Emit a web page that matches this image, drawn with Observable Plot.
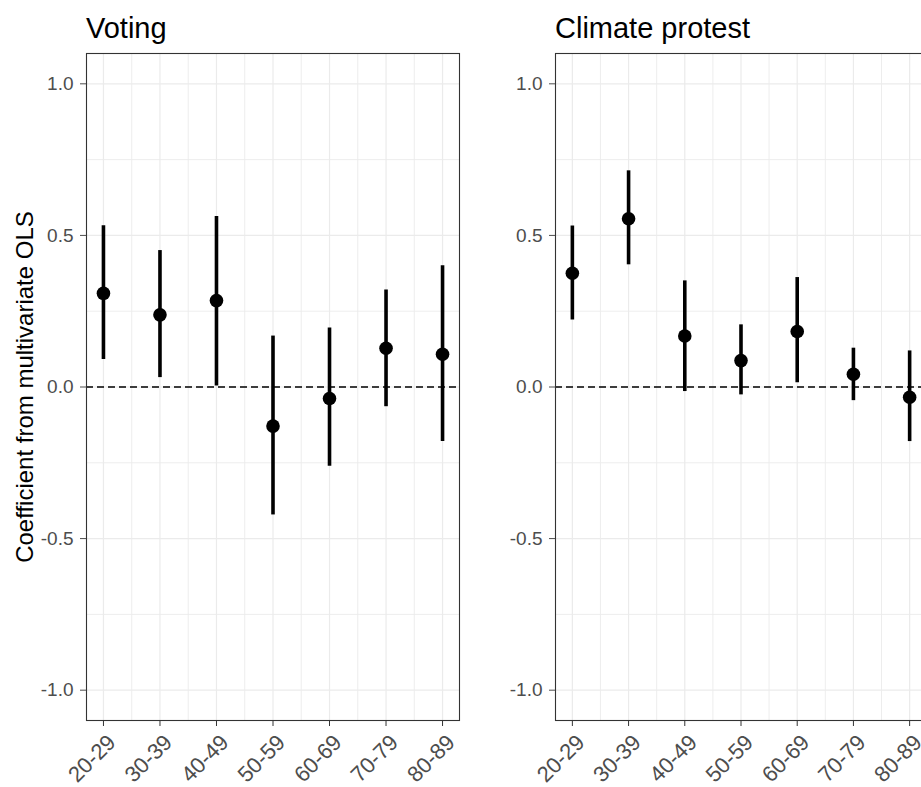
<!DOCTYPE html>
<html><head><meta charset="utf-8">
<script src="https://cdn.jsdelivr.net/npm/d3@7"></script>
<script src="https://cdn.jsdelivr.net/npm/@observablehq/plot@0.6"></script>
<style>
html,body{margin:0;padding:0;background:#fff;overflow:hidden;}
#wrap{position:relative;width:921px;height:787px;overflow:hidden;background:#fff;font-family:"Liberation Sans",Arial,sans-serif;}
.panel{position:absolute;top:0;}
.panel svg{max-width:none !important;display:block;}
.title{position:absolute;font-size:29px;line-height:1;color:#000;white-space:nowrap;}
.ylab{position:absolute;width:400px;height:24px;font-size:24px;line-height:1;text-align:center;color:#000;white-space:nowrap;transform:rotate(-90deg);}
</style></head><body><div id="wrap"></div>
<script>
// ---- data ----
const ageGroups = ["20-29","30-39","40-49","50-59","60-69","70-79","80-89"];
const votingEst = [0.309, 0.238, 0.285, -0.129, -0.038, 0.128, 0.108];
const votingLo  = [0.091, 0.031, 0.003, -0.422, -0.261, -0.065, -0.180];
const votingHi  = [0.532, 0.450, 0.562, 0.168, 0.195, 0.320, 0.400];
const climateEst = [0.375, 0.555, 0.168, 0.087, 0.183, 0.042, -0.034];
const climateLo  = [0.221, 0.403, -0.015, -0.026, 0.014, -0.045, -0.180];
const climateHi  = [0.531, 0.713, 0.350, 0.205, 0.361, 0.128, 0.119];
const yTicks = [-1.0, -0.5, 0.0, 0.5, 1.0];
const panelTitles = ["Voting", "Climate protest"];
const yTitle = "Coefficient from multivariate OLS";

const FONT = '"Liberation Sans", Arial, sans-serif';
const xPos = ageGroups.map((g, i) => i + 1);
const xMinor = xPos.slice(0, -1).map(v => v + 0.5);
const yMinor = yTicks.slice(0, -1).map((v, i) => (v + yTicks[i + 1]) / 2);

function panel(est, lo, hi, marginLeft, frameWidth) {
  const data = ageGroups.map((g, i) => ({pos: i + 1, g, est: est[i], lo: lo[i], hi: hi[i]}));
  return Plot.plot({
    width: marginLeft + frameWidth + 2,
    height: 787,
    marginTop: 53, marginBottom: 67, marginLeft, marginRight: 2,
    x: {type: "linear", domain: [0.7, 7.3]},
    y: {domain: [-1.1, 1.1]},
    style: {fontFamily: FONT, background: "white", overflow: "visible"},
    marks: [
      Plot.gridY(yMinor, {stroke: "#EBEBEB", strokeOpacity: 1, strokeWidth: 0.9}),
      Plot.gridX(xMinor, {stroke: "#EBEBEB", strokeOpacity: 1, strokeWidth: 0.9}),
      Plot.gridY(yTicks, {stroke: "#EBEBEB", strokeOpacity: 1, strokeWidth: 1.2}),
      Plot.gridX(xPos, {stroke: "#EBEBEB", strokeOpacity: 1, strokeWidth: 1.2}),
      Plot.ruleY([0], {stroke: "black", strokeWidth: 1.3, strokeDasharray: "7,4"}),
      Plot.ruleX(data, {x: "pos", y1: "lo", y2: "hi", stroke: "black", strokeWidth: 3.6}),
      Plot.dot(data, {x: "pos", y: "est", r: 6.8, fill: "black", stroke: "none"}),
      Plot.frame({stroke: "#333333", strokeWidth: 1.1}),
      Plot.axisY(yTicks, {tickFormat: d => d.toFixed(1), fontSize: 19, color: "#4D4D4D",
        tickSize: 6, tickPadding: 7, label: null}),
      // x ticks only
      Plot.axisX(xPos, {tickSize: 6, stroke: "#333333", fill: "none", label: null}),
      // x tick labels only, rotated
      Plot.axisX(xPos, {tickFormat: d => ageGroups[d - 1], tickRotate: -45, fontSize: 22,
        fill: "#4D4D4D", stroke: "none", tickSize: 0, tickPadding: 0, textAnchor: "end", lineAnchor: "bottom",
        dx: 13.5, dy: 23.3, label: null})
    ]
  });
}

const wrap = document.getElementById("wrap");
const specs = [
  {left: 0, est: votingEst, lo: votingLo, hi: votingHi, ml: 86, fw: 373},
  {left: 470, est: climateEst, lo: climateLo, hi: climateHi, ml: 85, fw: 371}
];
specs.forEach((s, i) => {
  const div = document.createElement("div");
  div.className = "panel";
  div.style.left = s.left + "px";
  div.style.width = (s.ml + s.fw + 2) + "px";
  div.appendChild(panel(s.est, s.lo, s.hi, s.ml, s.fw));
  wrap.appendChild(div);
  const t = document.createElement("div");
  t.className = "title";
  t.textContent = panelTitles[i];
  t.style.left = (s.left + s.ml) + "px";
  t.style.top = "13.8px";
  wrap.appendChild(t);
});
const yl = document.createElement("div");
yl.className = "ylab";
yl.textContent = yTitle;
yl.style.left = (24.7 - 200) + "px";
yl.style.top = (386.5 - 12) + "px";
wrap.appendChild(yl);
</script></body></html>
